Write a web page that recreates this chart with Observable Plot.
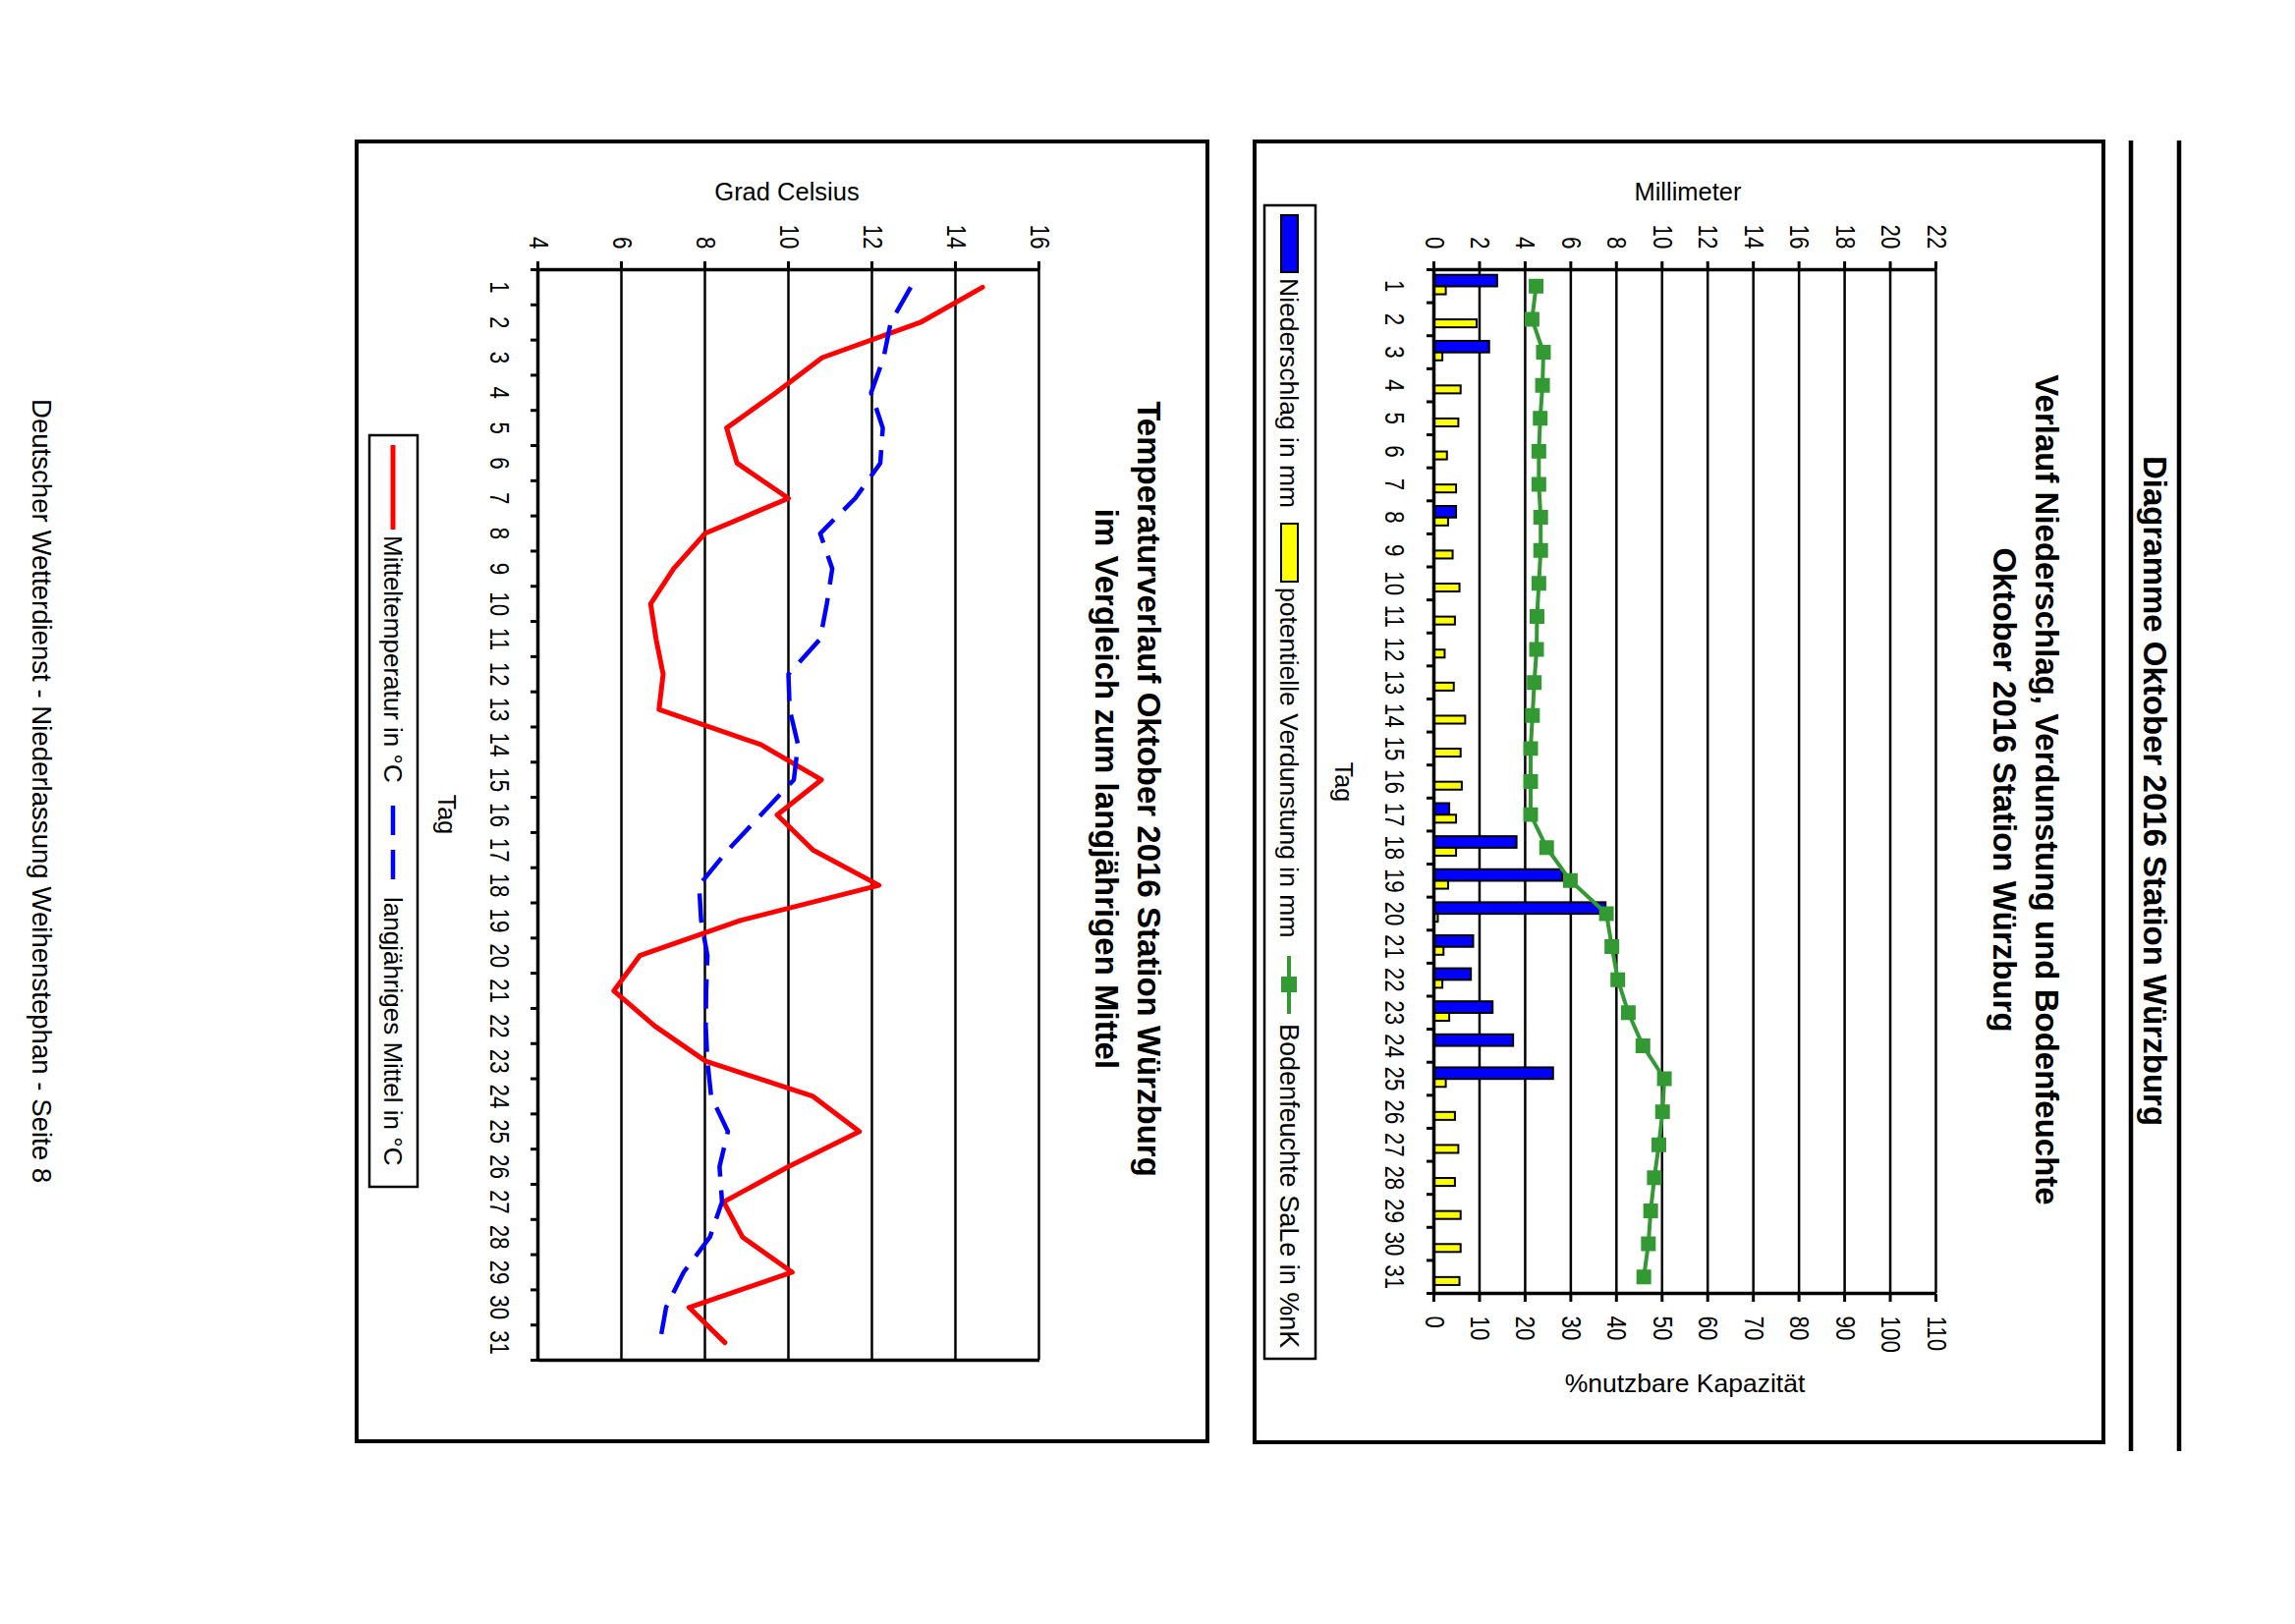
<!DOCTYPE html>
<html>
<head>
<meta charset="utf-8">
<script src="https://cdn.jsdelivr.net/npm/d3@7"></script>
<script src="https://cdn.jsdelivr.net/npm/@observablehq/plot@0.6"></script>
<style>
html, body { margin: 0; padding: 0; background: #fff; overflow: hidden; width: 2336px; height: 1653px; }
#page { position: absolute; left: 0; top: 0; width: 1653px; height: 2336px; transform-origin: 0 0;
        transform: translate(2336px, 0) rotate(90deg); background: #fff;
        font-family: "Liberation Sans", Arial, sans-serif; }
#page > svg { position: absolute; left: 0; }
</style>
</head>
<body>
<div id="page"></div>
<script>
// ---------- data ----------
const days = [1,2,3,4,5,6,7,8,9,10,11,12,13,14,15,16,17,18,19,20,21,22,23,24,25,26,27,28,29,30,31];
const niederschlag = [2.75,0,2.4,0,0,0,0,0.95,0,0,0,0,0,0,0,0,0.65,3.6,5.6,7.5,1.7,1.6,2.55,3.45,5.2,0,0,0,0,0,0];
const verdunstung = [0.5,1.85,0.35,1.15,1.05,0.55,0.95,0.6,0.8,1.1,0.9,0.45,0.85,1.35,1.15,1.2,0.95,0.95,0.6,0.15,0.4,0.35,0.65,0,0.5,0.9,1.05,0.9,1.15,1.15,1.1];
const bodenfeuchte = [22.4,21.5,24.0,23.8,23.3,23.0,23.0,23.4,23.4,23.0,22.6,22.5,22.0,21.6,21.2,21.2,21.2,24.7,29.9,37.8,39.0,40.3,42.6,45.8,50.5,50.1,49.3,48.3,47.5,47.0,46.0];
const mitteltemperatur = [14.65,13.16,10.81,9.7,8.52,8.77,10.0,8.0,7.25,6.7,6.83,7.0,6.9,9.34,10.79,9.73,10.59,12.17,8.85,6.44,5.82,6.8,8.02,10.59,11.7,10.0,8.45,8.9,10.09,7.62,8.48];
const langjaehrigesMittel = [12.93,12.45,12.28,11.98,12.26,12.2,11.6,10.76,11.05,10.92,10.76,10.0,10.03,10.23,10.13,9.34,8.55,7.86,7.91,8.06,8.03,8.02,8.06,8.15,8.55,8.35,8.41,8.12,7.49,7.07,6.92];
const mmTicks = [0,2,4,6,8,10,12,14,16,18,20,22];
const pctTicks = [0,10,20,30,40,50,60,70,80,90,100,110];
const tempTicks = [4,6,8,10,12,14,16];

const PCT_PER_MM = 110 / 22;
const precip = days.map((day, i) => ({day, n: niederschlag[i], v: verdunstung[i], bf: bodenfeuchte[i]}));
const temp = days.map((day, i) => ({day, mittel: mitteltemperatur[i], lang: langjaehrigesMittel[i]}));
const boundaries = [0.5].concat(days.map(d => d + 0.5));

const GREEN = "#339933", BLUE = "#0000ff", YELLOW = "#ffff00", RED = "#ff0000";
const TICK_FONT = 28, TICK_SQUEEZE = 0.8;

const page = document.getElementById("page");

// ---------- decoration layer (boxes, titles, legends) ----------
const deco = d3.create("svg").attr("width", 1653).attr("height", 2336).style("top", "0px")
  .attr("font-family", "'Liberation Sans', Arial, sans-serif");

function txt(x, y, s, size, opts = {}) {
  const t = deco.append("text").attr("x", x).attr("y", y).attr("font-size", size)
    .attr("dominant-baseline", "central").attr("text-anchor", opts.anchor || "middle")
    .attr("font-weight", opts.bold ? "bold" : "normal").attr("fill", "black").text(s);
  if (opts.rotate) t.attr("transform", `rotate(${opts.rotate},${x},${y})`);
  return t;
}
// header
deco.append("line").attr("x1", 143).attr("x2", 1477).attr("y1", 118).attr("y2", 118).attr("stroke", "black").attr("stroke-width", 4.5);
deco.append("line").attr("x1", 143).attr("x2", 1477).attr("y1", 167).attr("y2", 167).attr("stroke", "black").attr("stroke-width", 4.5);
txt(805, 143, "Diagramme Oktober 2016 Station Würzburg", 33, {bold: true});

// precipitation box
deco.append("rect").attr("x", 144).attr("y", 195).attr("width", 1324).attr("height", 864).attr("fill", "none").attr("stroke", "black").attr("stroke-width", 4);
txt(804, 253, "Verlauf Niederschlag, Verdunstung und Bodenfeuchte", 33, {bold: true});
txt(804, 296, "Oktober 2016 Station Würzburg", 33, {bold: true});
txt(195, 618, "Millimeter", 25.5, {rotate: -90});
txt(1408, 621, "%nutzbare Kapazität", 26.5, {rotate: -90});
txt(796, 968, "Tag", 25);
// legend 1
deco.append("rect").attr("x", 209).attr("y", 997).attr("width", 1174).attr("height", 52).attr("fill", "white").attr("stroke", "black").attr("stroke-width", 2.5);
deco.append("rect").attr("x", 219).attr("y", 1015).attr("width", 58).attr("height", 17).attr("fill", BLUE).attr("stroke", "black").attr("stroke-width", 2);
txt(283, 1024, "Niederschlag in mm", 26.5, {anchor: "start"});
deco.append("rect").attr("x", 533).attr("y", 1015).attr("width", 59).attr("height", 17).attr("fill", YELLOW).attr("stroke", "black").attr("stroke-width", 2);
txt(598, 1024, "potentielle Verdunstung in mm", 26.5, {anchor: "start"});
deco.append("line").attr("x1", 973).attr("x2", 1032).attr("y1", 1024).attr("y2", 1024).attr("stroke", GREEN).attr("stroke-width", 4);
deco.append("rect").attr("x", 994).attr("y", 1016).attr("width", 16).attr("height", 16).attr("fill", GREEN);
txt(1042, 1024, "Bodenfeuchte SaLe in %nK", 27, {anchor: "start"});

// temperature box
deco.append("rect").attr("x", 144).attr("y", 1107).attr("width", 1323).attr("height", 866).attr("fill", "none").attr("stroke", "black").attr("stroke-width", 4);
txt(803, 1167, "Temperaturverlauf Oktober 2016 Station Würzburg", 33, {bold: true});
txt(803, 1210, "im Vergleich zum langjährigen Mittel", 33, {bold: true});
txt(195, 1535, "Grad Celsius", 25.5, {rotate: -90});
txt(829, 1881, "Tag", 25);
// legend 2
deco.append("rect").attr("x", 443).attr("y", 1911).attr("width", 765).attr("height", 49).attr("fill", "white").attr("stroke", "black").attr("stroke-width", 2.5);
deco.append("line").attr("x1", 453).attr("x2", 539).attr("y1", 1936).attr("y2", 1936).attr("stroke", RED).attr("stroke-width", 5);
txt(545, 1936, "Mitteltemperatur in °C", 26, {anchor: "start"});
deco.append("line").attr("x1", 820).attr("x2", 895).attr("y1", 1936).attr("y2", 1936).attr("stroke", BLUE).attr("stroke-width", 4.5).attr("stroke-dasharray", "30,15");
txt(913, 1936, "langjähriges Mittel in °C", 26, {anchor: "start"});

// footer
txt(805, 2294, "Deutscher Wetterdienst - Niederlassung Weihenstephan - Seite 8", 27.6);

page.appendChild(deco.node());

// squeeze tick labels horizontally (narrow tick font look)
function condense(svg, k) {
  svg.querySelectorAll('g[aria-label$="tick label"] text').forEach(t => {
    const tr = t.getAttribute("transform");
    if (tr) t.setAttribute("transform", tr + ` scale(${k},1)`);
    else {
      const x = parseFloat(t.getAttribute("x")) || 0, y = parseFloat(t.getAttribute("y")) || 0;
      t.setAttribute("transform", `translate(${x},${y}) scale(${k},1) translate(${-x},${-y})`);
    }
  });
}

// ---------- precipitation chart ----------
const plotStyle = {background: "none", fontFamily: "'Liberation Sans', Arial, sans-serif", fontSize: TICK_FONT + "px", color: "black", overflow: "visible", maxWidth: "none"};
const precipChart = Plot.plot({
  width: 1653, height: 660,
  marginLeft: 274, marginRight: 337, marginTop: 65, marginBottom: 84,
  style: plotStyle,
  x: {domain: [0.5, 31.5]},
  y: {domain: [0, 22]},
  marks: [
    Plot.ruleY(mmTicks.filter(t => t > 0), {stroke: "black", strokeWidth: 2.5}),
    Plot.rect(precip.filter(d => d.n > 0), {x1: d => d.day - 0.33, x2: d => d.day + 0.02, y1: 0, y2: "n", fill: BLUE, stroke: "black", strokeWidth: 2}),
    Plot.rect(precip.filter(d => d.v > 0), {x1: d => d.day + 0.02, x2: d => d.day + 0.26, y1: 0, y2: "v", fill: YELLOW, stroke: "black", strokeWidth: 2}),
    Plot.line(precip, {x: "day", y: d => d.bf / PCT_PER_MM, stroke: GREEN, strokeWidth: 4}),
    Plot.dot(precip, {x: "day", y: d => d.bf / PCT_PER_MM, symbol: "square", r: 7.6, fill: GREEN, stroke: GREEN}),
    Plot.ruleY([0], {stroke: "black", strokeWidth: 3.5}),
    Plot.ruleX([0.5, 31.5], {stroke: "black", strokeWidth: 3.5}),
    Plot.axisY(mmTicks, {anchor: "left", tickSize: 8, tickPadding: 13, strokeWidth: 3, label: null}),
    Plot.axisY(pctTicks.map(p => p / PCT_PER_MM), {anchor: "right", tickSize: 8, tickPadding: 15, strokeWidth: 3, label: null, tickFormat: v => String(Math.round(v * PCT_PER_MM))}),
    Plot.axisX(days, {anchor: "bottom", tickSize: 0, tickPadding: 30, label: null, tickFormat: d => String(d)}),
    Plot.axisX(boundaries, {anchor: "bottom", tickSize: 8, strokeWidth: 3, label: null, tickFormat: () => ""})
  ]
});
precipChart.style.top = "300px";
condense(precipChart, TICK_SQUEEZE);
page.appendChild(precipChart);

// ---------- temperature chart ----------
const tempChart = Plot.plot({
  width: 1653, height: 660,
  marginLeft: 274, marginRight: 269, marginTop: 78, marginBottom: 72,
  style: plotStyle,
  x: {domain: [0.5, 31.5]},
  y: {domain: [4, 16]},
  marks: [
    Plot.ruleY(tempTicks.filter(t => t > 4), {stroke: "black", strokeWidth: 2.5}),
    Plot.ruleY([4], {stroke: "black", strokeWidth: 3.5}),
    Plot.ruleX([0.5, 31.5], {stroke: "black", strokeWidth: 3.5}),
    Plot.line(temp, {x: "day", y: "mittel", stroke: RED, strokeWidth: 5}),
    Plot.line(temp, {x: "day", y: "lang", stroke: BLUE, strokeWidth: 4.5, strokeDasharray: "30,14", strokeLinecap: "butt"}),
    Plot.axisY(tempTicks, {anchor: "left", tickSize: 8, tickPadding: 13, strokeWidth: 3, label: null}),
    Plot.axisX(days, {anchor: "bottom", tickSize: 0, tickPadding: 29, label: null, tickFormat: d => String(d)}),
    Plot.axisX(boundaries, {anchor: "bottom", tickSize: 8, strokeWidth: 3, label: null, tickFormat: () => ""})
  ]
});
tempChart.style.top = "1200px";
condense(tempChart, TICK_SQUEEZE);
page.appendChild(tempChart);
</script>
</body>
</html>
